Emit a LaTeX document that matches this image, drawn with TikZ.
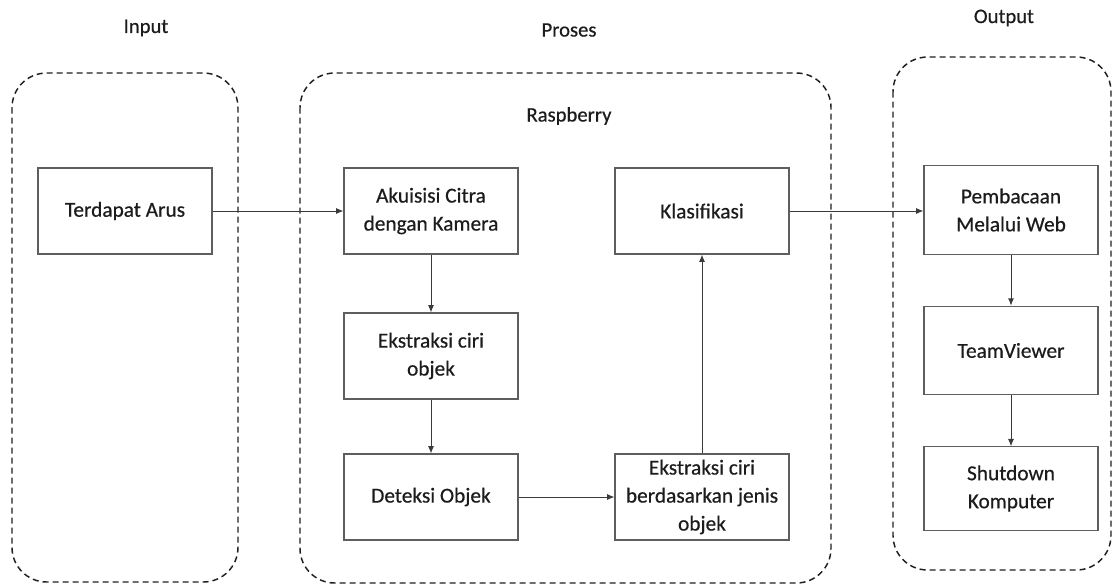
\documentclass[tikz,border=0pt]{standalone}
\usepackage{fontspec}
\setmainfont{Carlito}
\newfontfamily\labelfont{Carlito}[FakeBold=0.5]
\usetikzlibrary{arrows.meta}
\definecolor{boxline}{HTML}{5E5E5E}
\definecolor{dashline}{HTML}{1E1E1E}
\definecolor{arrline}{HTML}{3A3A3A}
\definecolor{txt}{HTML}{1C1C1C}
\tikzset{
  procbox/.style={draw=boxline, line width=0.8pt, minimum width=130.5pt,
    minimum height=64.5pt, inner sep=0pt, align=center, text=txt,
    font=\labelfont\fontsize{16}{21}\selectfont},
  groupbox/.style={draw=dashline, line width=1.1pt, dash pattern=on 4.5pt off 3pt,
    rounded corners=26pt},
  title/.style={text=txt, font=\labelfont\fontsize{15.5}{19}\selectfont, inner sep=0pt},
  arr/.style={draw=arrline, line width=0.7pt, -{Latex[length=5.5pt,width=4.5pt]}}
}
\begin{document}
\begin{tikzpicture}[x=0.75pt, y=-0.75pt]
  \useasboundingbox (0,0) rectangle (1115,587);

  % group frames
  \draw[groupbox] (12,73) rectangle (238,582);
  \draw[groupbox] (300,73) rectangle (831,583);
  \draw[groupbox] (893,57) rectangle (1111,570);

  % group titles
  \node[title] (tin)  at (146,28) {Input};
  \node[title] (tpro) at (569,30) {Proses};
  \node[title] (tout) at (1004,18) {Output};
  \node[title] (trasp) at (569,116) {Raspberry};

  % input
  \node[procbox] (arus) at (125,211) {Terdapat Arus};

  % processing on the Raspberry
  \node[procbox] (akuisisi) at (431,211) {Akuisisi Citra\\dengan Kamera};
  \node[procbox] (ciri)     at (431,356) {Ekstraksi ciri\\objek};
  \node[procbox] (deteksi)  at (431,497) {Deteksi Objek};
  \node[procbox] (cirijenis) at (702,497) {Ekstraksi ciri\\berdasarkan jenis\\objek};
  \node[procbox] (klas)     at (702,211) {Klasifikasi};

  % output
  \node[procbox, minimum height=67pt] (web) at (1011,210) {Pembacaan\\Melalui Web};
  \node[procbox, minimum height=66.5pt] (tv) at (1011,350.5) {TeamViewer};
  \node[procbox, minimum height=62.5pt] (shut) at (1011,488.5) {Shutdown\\Komputer};

  % flow
  \draw[arr] (arus) -- (akuisisi);
  \draw[arr] (akuisisi) -- (ciri);
  \draw[arr] (ciri) -- (deteksi);
  \draw[arr] (deteksi) -- (cirijenis);
  \draw[arr] (cirijenis) -- (klas);
  \draw[arr] (klas.east) -- (web.west |- klas.east);
  \draw[arr] (web) -- (tv);
  \draw[arr] (tv) -- (shut);
\end{tikzpicture}
\end{document}
